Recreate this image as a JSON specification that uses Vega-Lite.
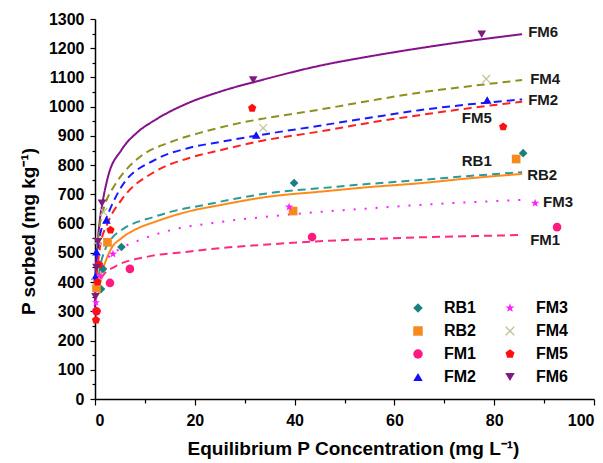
{
  "$schema": "https://vega.github.io/schema/vega-lite/v6.json",
  "autosize": {"type": "none"},
  "width": 499,
  "height": 380,
  "padding": {"left": 95, "top": 19, "right": 9, "bottom": 64},
  "background": "white",
  "config": {
    "view": {"stroke": null},
    "font": "Liberation Sans",
    "axis": {"grid": false, "domainColor": "#000", "domainWidth": 1.5, "tickColor": "#000", "tickWidth": 1.2, "labelColor": "#000", "titleColor": "#000", "labelFont": "Liberation Sans", "titleFont": "Liberation Sans", "labelFontWeight": "bold", "titleFontWeight": "bold", "labelFontSize": 16, "titleFontSize": 19}
  },
  "datasets": {
    "points": [
      {"series": "RB1", "x": 0.3, "y": 300}, {"series": "RB1", "x": 1.2, "y": 376}, {"series": "RB1", "x": 1.6, "y": 445}, {"series": "RB1", "x": 5.3, "y": 520}, {"series": "RB1", "x": 39.9, "y": 739}, {"series": "RB1", "x": 85.8, "y": 841},
      {"series": "RB2", "x": 0.3, "y": 380}, {"series": "RB2", "x": 2.5, "y": 536}, {"series": "RB2", "x": 39.7, "y": 643}, {"series": "RB2", "x": 84.4, "y": 821},
      {"series": "FM1", "x": 0.3, "y": 300}, {"series": "FM1", "x": 3.0, "y": 397}, {"series": "FM1", "x": 7.0, "y": 445}, {"series": "FM1", "x": 43.5, "y": 554}, {"series": "FM1", "x": 92.6, "y": 588},
      {"series": "FM2", "x": 0.1, "y": 420}, {"series": "FM2", "x": 0.3, "y": 504}, {"series": "FM2", "x": 2.3, "y": 612}, {"series": "FM2", "x": 32.3, "y": 903}, {"series": "FM2", "x": 78.6, "y": 1023},
      {"series": "FM3", "x": 0.2, "y": 330}, {"series": "FM3", "x": 1.0, "y": 420}, {"series": "FM3", "x": 3.6, "y": 496}, {"series": "FM3", "x": 38.9, "y": 657}, {"series": "FM3", "x": 88.2, "y": 670},
      {"series": "FM4", "x": 0.1, "y": 400}, {"series": "FM4", "x": 0.5, "y": 540}, {"series": "FM4", "x": 1.7, "y": 640}, {"series": "FM4", "x": 33.7, "y": 927}, {"series": "FM4", "x": 78.4, "y": 1095},
      {"series": "FM5", "x": 0.2, "y": 270}, {"series": "FM5", "x": 0.3, "y": 300}, {"series": "FM5", "x": 0.5, "y": 400}, {"series": "FM5", "x": 0.8, "y": 460}, {"series": "FM5", "x": 3.1, "y": 578}, {"series": "FM5", "x": 31.5, "y": 995}, {"series": "FM5", "x": 81.8, "y": 931},
      {"series": "FM6", "x": 0.1, "y": 350}, {"series": "FM6", "x": 0.3, "y": 450}, {"series": "FM6", "x": 0.6, "y": 538}, {"series": "FM6", "x": 1.4, "y": 670}, {"series": "FM6", "x": 31.7, "y": 1091}, {"series": "FM6", "x": 77.5, "y": 1248}
    ],
    "curves": [
      {"series": "FM6", "x": 0.005, "y": 300}, {"series": "FM6", "x": 0.06, "y": 407}, {"series": "FM6", "x": 0.46, "y": 521}, {"series": "FM6", "x": 0.9, "y": 602}, {"series": "FM6", "x": 1.6, "y": 681}, {"series": "FM6", "x": 2.6, "y": 760}, {"series": "FM6", "x": 5.3, "y": 852}, {"series": "FM6", "x": 8.6, "y": 914}, {"series": "FM6", "x": 12, "y": 954}, {"series": "FM6", "x": 18.6, "y": 1012}, {"series": "FM6", "x": 25, "y": 1051}, {"series": "FM6", "x": 34.7, "y": 1097}, {"series": "FM6", "x": 45, "y": 1140}, {"series": "FM6", "x": 55, "y": 1172}, {"series": "FM6", "x": 65, "y": 1200}, {"series": "FM6", "x": 75, "y": 1225}, {"series": "FM6", "x": 85.6, "y": 1248},
      {"series": "FM4", "x": 0.3, "y": 500}, {"series": "FM4", "x": 1, "y": 600}, {"series": "FM4", "x": 2, "y": 665}, {"series": "FM4", "x": 3.9, "y": 730}, {"series": "FM4", "x": 5.3, "y": 765}, {"series": "FM4", "x": 8.6, "y": 823}, {"series": "FM4", "x": 15.3, "y": 880}, {"series": "FM4", "x": 22, "y": 915}, {"series": "FM4", "x": 28.7, "y": 943}, {"series": "FM4", "x": 34, "y": 960}, {"series": "FM4", "x": 45, "y": 990}, {"series": "FM4", "x": 55, "y": 1020}, {"series": "FM4", "x": 65, "y": 1048}, {"series": "FM4", "x": 75, "y": 1070}, {"series": "FM4", "x": 85.6, "y": 1091},
      {"series": "FM2", "x": 0.3, "y": 470}, {"series": "FM2", "x": 1, "y": 560}, {"series": "FM2", "x": 2.3, "y": 620}, {"series": "FM2", "x": 5.3, "y": 726}, {"series": "FM2", "x": 12, "y": 818}, {"series": "FM2", "x": 18.6, "y": 858}, {"series": "FM2", "x": 25.3, "y": 880}, {"series": "FM2", "x": 32, "y": 900}, {"series": "FM2", "x": 45, "y": 935}, {"series": "FM2", "x": 55, "y": 962}, {"series": "FM2", "x": 65, "y": 988}, {"series": "FM2", "x": 75, "y": 1008}, {"series": "FM2", "x": 85.6, "y": 1025},
      {"series": "FM5", "x": 0.3, "y": 420}, {"series": "FM5", "x": 1, "y": 520}, {"series": "FM5", "x": 2.5, "y": 600}, {"series": "FM5", "x": 5.3, "y": 681}, {"series": "FM5", "x": 12, "y": 778}, {"series": "FM5", "x": 18.6, "y": 823}, {"series": "FM5", "x": 25.3, "y": 852}, {"series": "FM5", "x": 34, "y": 885}, {"series": "FM5", "x": 45, "y": 915}, {"series": "FM5", "x": 55, "y": 945}, {"series": "FM5", "x": 65, "y": 971}, {"series": "FM5", "x": 75, "y": 995}, {"series": "FM5", "x": 85.6, "y": 1017},
      {"series": "RB1", "x": 0.4, "y": 380}, {"series": "RB1", "x": 1, "y": 450}, {"series": "RB1", "x": 2, "y": 510}, {"series": "RB1", "x": 3.6, "y": 555}, {"series": "RB1", "x": 5.3, "y": 578}, {"series": "RB1", "x": 12, "y": 624}, {"series": "RB1", "x": 15.3, "y": 641}, {"series": "RB1", "x": 22, "y": 664}, {"series": "RB1", "x": 28.7, "y": 687}, {"series": "RB1", "x": 34.7, "y": 704}, {"series": "RB1", "x": 45, "y": 721}, {"series": "RB1", "x": 55, "y": 736}, {"series": "RB1", "x": 65, "y": 749}, {"series": "RB1", "x": 75, "y": 763}, {"series": "RB1", "x": 85.6, "y": 776},
      {"series": "RB2", "x": 0.8, "y": 360}, {"series": "RB2", "x": 1.2, "y": 420}, {"series": "RB2", "x": 2.0, "y": 465}, {"series": "RB2", "x": 3.3, "y": 516}, {"series": "RB2", "x": 5.3, "y": 550}, {"series": "RB2", "x": 8.6, "y": 584}, {"series": "RB2", "x": 12, "y": 606}, {"series": "RB2", "x": 18.6, "y": 641}, {"series": "RB2", "x": 25.3, "y": 664}, {"series": "RB2", "x": 34.7, "y": 692}, {"series": "RB2", "x": 45, "y": 709}, {"series": "RB2", "x": 55, "y": 725}, {"series": "RB2", "x": 65, "y": 738}, {"series": "RB2", "x": 75, "y": 755}, {"series": "RB2", "x": 85.6, "y": 770},
      {"series": "FM3", "x": 0.4, "y": 380}, {"series": "FM3", "x": 1, "y": 430}, {"series": "FM3", "x": 2.5, "y": 480}, {"series": "FM3", "x": 5.3, "y": 516}, {"series": "FM3", "x": 9.3, "y": 546}, {"series": "FM3", "x": 15.3, "y": 578}, {"series": "FM3", "x": 24, "y": 603}, {"series": "FM3", "x": 33.4, "y": 622}, {"series": "FM3", "x": 45, "y": 640}, {"series": "FM3", "x": 55, "y": 652}, {"series": "FM3", "x": 65, "y": 664}, {"series": "FM3", "x": 75, "y": 673}, {"series": "FM3", "x": 85.6, "y": 681},
      {"series": "FM1", "x": 0.5, "y": 370}, {"series": "FM1", "x": 1.5, "y": 420}, {"series": "FM1", "x": 4, "y": 453}, {"series": "FM1", "x": 10.6, "y": 487}, {"series": "FM1", "x": 18.6, "y": 504}, {"series": "FM1", "x": 25, "y": 516}, {"series": "FM1", "x": 33.4, "y": 527}, {"series": "FM1", "x": 45, "y": 540}, {"series": "FM1", "x": 55, "y": 547}, {"series": "FM1", "x": 65, "y": 553}, {"series": "FM1", "x": 75, "y": 557}, {"series": "FM1", "x": 85.6, "y": 561}
    ],
    "labels": [
      {"label": "FM6", "x": 86.8, "y": 1256}, {"label": "FM4", "x": 87.2, "y": 1095}, {"label": "FM2", "x": 86.8, "y": 1023}, {"label": "FM5", "x": 73.5, "y": 961}, {"label": "RB1", "x": 73.5, "y": 814}, {"label": "RB2", "x": 86.6, "y": 766}, {"label": "FM3", "x": 89.8, "y": 675}, {"label": "FM1", "x": 87.2, "y": 544}
    ]
  },
  "encoding": {
    "x": {"field": "x", "type": "quantitative", "scale": {"domain": [0, 100], "nice": false}, "axis": {"values": [0, 10, 20, 30, 40, 50, 60, 70, 80, 90, 100], "labelExpr": "datum.value % 20 === 0 ? datum.label : ''", "tickSize": {"condition": {"test": "datum.value % 20 === 0", "value": 6}, "value": 4}, "labelPadding": 7, "title": "Equilibrium P Concentration (mg L⁻¹)", "titleX": 258, "titleY": 49, "titleBaseline": "middle"}},
    "y": {"field": "y", "type": "quantitative", "scale": {"domain": [0, 1300], "nice": false}, "axis": {"values": [0, 50, 100, 150, 200, 250, 300, 350, 400, 450, 500, 550, 600, 650, 700, 750, 800, 850, 900, 950, 1000, 1050, 1100, 1150, 1200, 1250, 1300], "format": "d", "labelExpr": "datum.value % 100 === 0 ? datum.label : ''", "tickSize": {"condition": {"test": "datum.value % 100 === 0", "value": 5}, "value": 3}, "labelPadding": 6, "title": "P sorbed (mg kg⁻¹)", "titleX": -67, "titleY": 212, "titleAngle": 270, "titleBaseline": "middle", "titleAlign": "center"}}
  },
  "layer": [
    {
      "data": {"name": "curves"},
      "mark": {"type": "line", "strokeWidth": 2, "interpolate": "monotone"},
      "encoding": {
        "detail": {"field": "series"},
        "stroke": {"field": "series", "type": "nominal", "legend": null, "scale": {"domain": ["FM6", "FM5", "FM4", "FM3", "FM2", "FM1", "RB2", "RB1"], "range": ["#85128a", "#ff2020", "#8f8f20", "#ff20ff", "#1a1aff", "#ff2a80", "#ff8a1a", "#2a9a9a"]}},
        "strokeDash": {"field": "series", "type": "nominal", "legend": null, "scale": {"domain": ["FM1", "FM2", "FM3", "FM4", "FM5", "FM6", "RB1", "RB2"], "range": [[8, 5], [8, 5], [2, 9], [8, 5], [8, 5], [1, 0], [8, 5], [1, 0]]}},
        "order": {"field": "x", "type": "quantitative"}
      }
    },
    {
      "data": {"name": "points"},
      "mark": {"type": "point", "filled": true, "size": 75, "opacity": 1},
      "encoding": {
        "color": {"field": "series", "type": "nominal", "scale": {"domain": ["RB1", "RB2", "FM1", "FM2", "FM3", "FM4", "FM5", "FM6"], "range": ["#1a7f7f", "#f58a1f", "#ff1a80", "#1010ff", "#ff20ff", "#c2c29a", "#ff1010", "#7f1a80"]}, "legend": {"orient": "none", "legendX": 315, "legendY": 281, "columns": 2, "columnPadding": 25, "rowPadding": 7, "symbolSize": 90, "labelFontSize": 16, "labelFontWeight": "bold", "labelColor": "#000", "labelOffset": 18, "title": null, "padding": 0}},
        "shape": {"field": "series", "type": "nominal", "scale": {"domain": ["RB1", "RB2", "FM1", "FM2", "FM3", "FM4", "FM5", "FM6"], "range": ["diamond", "square", "circle", "triangle-up", "M0,-1L0.235,-0.324L0.951,-0.309L0.38,0.124L0.588,0.809L0,0.4L-0.588,0.809L-0.38,0.124L-0.951,-0.309L-0.235,-0.324Z", "M0,-0.2L0.8,-1L1,-0.8L0.2,0L1,0.8L0.8,1L0,0.2L-0.8,1L-1,0.8L-0.2,0L-1,-0.8L-0.8,-1Z", "M0,-1L0.951,-0.309L0.588,0.809L-0.588,0.809L-0.951,-0.309Z", "triangle-down"]}, "legend": {"orient": "none", "legendX": 315, "legendY": 281, "columns": 2, "columnPadding": 25, "rowPadding": 7, "symbolSize": 90, "labelFontSize": 16, "labelFontWeight": "bold", "labelColor": "#000", "labelOffset": 18, "title": null, "padding": 0}}
      }
    },
    {
      "data": {"name": "labels"},
      "mark": {"type": "text", "align": "left", "baseline": "middle", "font": "Liberation Sans", "fontSize": 15, "fontWeight": "bold", "color": "#1a1a1a"},
      "encoding": {
        "text": {"field": "label"}
      }
    }
  ]
}
